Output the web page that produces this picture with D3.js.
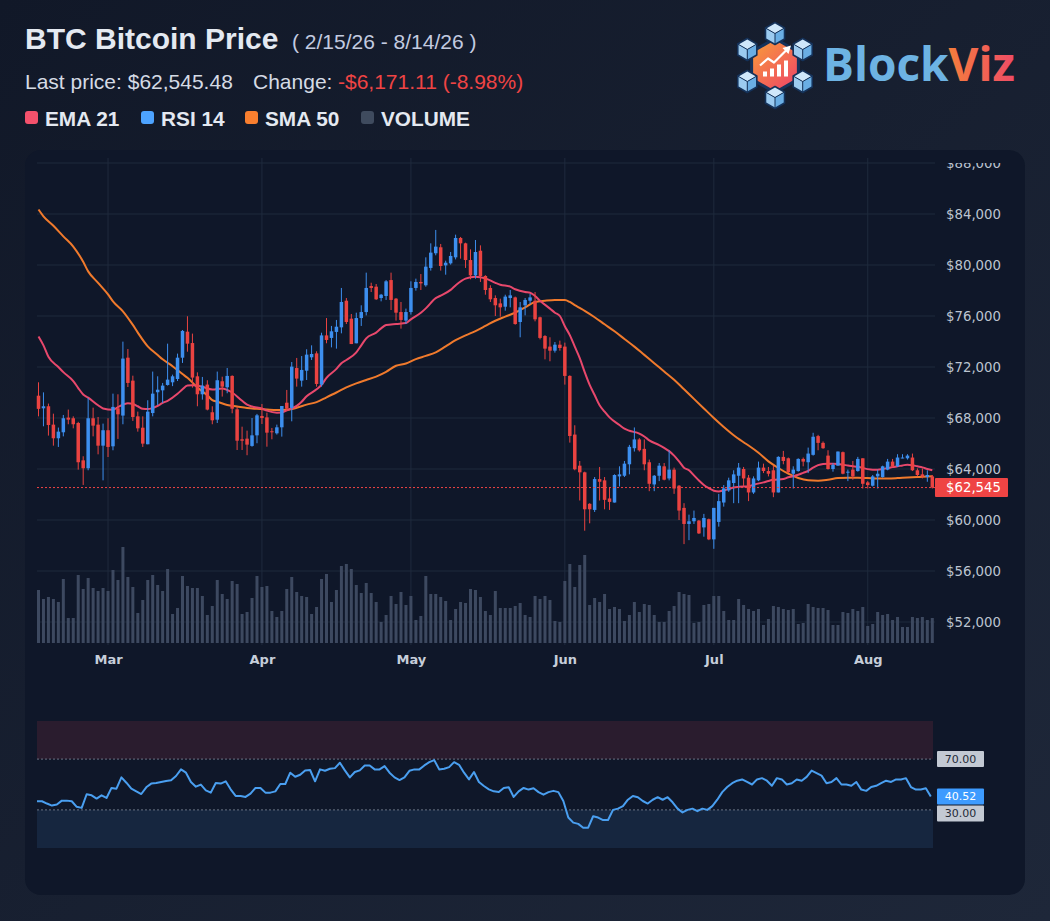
<!DOCTYPE html>
<html>
<head>
<meta charset="utf-8">
<script src="https://cdn.jsdelivr.net/npm/d3@7"></script>
<style>
  html, body { margin: 0; padding: 0; background: #141c2d; }
  svg { display: block; }
</style>
</head>
<body>
<div id="chart"></div>
<script>
// ---- data ----
const startDate = new Date(2026, 1, 15); // first candle, one per day

const opens = [69750,68760,68920,67480,66410,66880,68030,67980,67610,64680,
64060,67980,67480,65830,67040,65780,68760,68190,72730,70930,
68130,67240,65940,68390,70020,70170,70590,70800,71060,72730,
74770,73880,71270,69860,70620,68450,67870,70880,70410,71300,
68680,66330,66380,65810,66640,68160,68050,66960,66800,67270,
69200,68790,71920,70930,71710,72760,73070,70620,74480,74280,
74750,75110,77200,75790,73860,75840,76310,78350,78300,77410,
77570,78820,77360,76310,75640,76310,78200,78670,78410,79770,
80920,81390,79970,80130,80600,82120,81700,80390,79190,81120,
79140,78200,77410,76990,76730,77410,77460,75530,76840,77200,
77200,75900,74430,73600,73280,73750,73600,71300,66700,64260,
63740,61270,60790,63210,63110,61690,61370,63420,63470,64370,
65630,66320,65580,64530,62790,63470,64210,63260,63950,62690,
60950,59690,59900,59950,59420,60060,58480,59850,61370,62320,
62900,63470,64000,63320,62160,63110,64110,63840,63900,62160,
64950,64840,63630,63840,64790,64530,65110,66580,66050,65050,
64000,64260,65320,63740,63950,63840,64840,62950,62690,63420,
63370,63950,64580,64210,64840,64840,64900,63900,63580,63370,
63420];

const highs = [70800,70010,69130,68340,67250,68240,68660,68130,67700,65000,
69570,68810,68080,67560,67980,69910,69860,73990,73410,71320,
68500,68130,69390,71640,71270,70750,73830,71400,73050,74900,
75980,74620,71580,71220,70960,68920,71640,71240,71920,71350,
68890,67320,67010,68000,68320,69100,68420,67220,67480,68940,
70200,72390,72710,72860,73390,73700,73230,74690,75840,75220,
75690,78200,77410,76160,76260,76840,79400,78610,78510,77730,
78820,79400,77410,77100,76580,78720,78930,79290,80600,81700,
82750,81650,80340,81020,82380,82200,81750,81230,81960,81540,
79200,78410,77620,77360,77670,78040,77520,77100,77410,77730,
77880,75950,74500,74330,73960,74070,73910,71350,67430,64630,
63790,61320,63370,64160,63370,62580,63580,64210,64630,65890,
67260,66420,66320,64740,63530,64470,64470,65470,64110,62740,
61320,60420,60740,60000,60480,60110,60950,62050,62740,63320,
63900,64470,64160,63530,63420,64580,64420,64160,64260,65000,
65420,64900,64210,64840,64900,65680,66840,66680,66160,65470,
64470,65370,65370,63950,64630,64950,64840,63050,63530,63950,
64260,64790,64790,65160,65160,65160,65210,64050,64050,63900,
63530];

const lows = [68130,67350,66620,65830,65730,66560,67510,67190,63950,62750,
63900,66560,65150,63110,64940,65470,66360,67510,70430,67770,
66930,65730,65940,68130,69020,69180,70540,70500,70900,72320,
73200,70380,68920,69440,68600,67510,67610,69680,69940,68370,
65490,65490,65080,65750,66020,67530,65750,66330,66700,66540,
68530,67740,70460,70460,70980,72550,70460,70460,73860,73540,
73440,74640,75370,73800,73860,75220,76050,77880,77260,77150,
77260,76470,75640,75010,75370,76110,77990,78040,78300,79560,
80760,79560,79240,80030,80440,80500,79770,78880,78930,78670,
77670,77100,76000,75950,76420,76680,75320,74330,76050,76940,
75580,74170,72600,72450,73130,73280,70620,66070,63900,61530,
59160,59740,60630,61530,60840,60790,61370,62630,63370,63580,
65370,65370,63900,62260,62260,63050,63110,63110,62050,60000,
58110,58420,59690,58900,58690,58420,57740,59480,61050,62210,
61320,61320,62630,61480,62050,63050,63680,63420,61790,62160,
64370,63680,62470,63790,64210,63680,65050,65470,65580,63950,
63790,64260,63580,63050,63160,63790,62470,62470,62630,62470,
63320,63900,64160,64160,64840,64740,63840,63420,63260,63000,
62470];

const closes = [68716.59,68920,67450,66410,66930,67980,67870,67510,64530,64060,
67980,67400,65830,67040,65730,68870,68290,72660,70750,68080,
67190,65990,68500,69910,70220,70540,71010,71270,72730,74830,
73830,71170,69860,70540,68660,67820,70960,70460,71300,68730,
66220,66220,65910,66640,68210,68000,66850,66900,67270,68940,
68730,72030,71090,71770,72970,73020,70670,74480,74120,74800,
75160,77100,75530,73800,75840,76310,78200,78200,77310,77670,
78720,77260,76260,75690,76310,78200,78670,78560,79870,80970,
81440,79920,80180,80710,82120,81700,80390,79190,81020,79140,
78040,77310,76840,76680,77520,77620,75370,76680,77260,77460,
75740,74280,73440,73280,73750,73490,71300,66590,63980,63740,
60840,60840,63210,63000,61580,61420,63530,63580,64420,65740,
66320,65470,64370,62840,63470,64260,63160,63950,62470,60740,
59690,59900,60160,58950,60160,58480,60950,61480,62480,63110,
63580,64110,63260,62160,63260,64110,63840,63630,62160,64950,
64630,63740,63950,64790,64580,65210,66530,66050,65630,64000,
64320,65370,63630,63790,63420,64790,62840,62740,63420,63630,
64210,64580,64210,64900,64900,65050,63900,63530,63420,63530,
62545.48];

// volume, relative units (0-100)
const volumes = [53,44,46,44,41,64,25,25,68,54,
65,55,52,55,52,73,63,96,66,56,
30,43,63,68,58,52,74,29,35,67,
57,55,55,47,28,37,63,49,44,62,
59,29,31,45,67,56,57,32,26,32,
54,66,51,47,46,29,36,64,69,41,
53,77,79,74,58,50,60,50,41,21,
28,47,39,51,38,47,23,27,67,49,
49,46,42,23,34,41,40,54,53,46,
32,28,52,35,35,35,37,40,28,26,
47,44,47,43,22,21,62,79,56,78,
88,38,45,41,49,34,36,34,22,28,
41,31,39,38,28,21,21,32,37,51,
49,48,20,21,38,39,47,47,32,23,
23,44,38,34,32,34,18,24,37,36,
34,33,34,19,20,39,36,35,35,33,
18,18,31,30,34,32,36,17,19,31,
28,29,23,26,16,16,26,25,26,23,
25];

// [day index, value]
const ema21 = [[0,74400],[1,73700],[2,72800],[4,72000],[5,71600],[7,70900],[8,70350],[9,69850],
[10,69600],[12,69000],[13,68750],[15,68650],[16,68850],[18,69150],[19,69100],[20,68920],
[21,68720],[22,68700],[24,68950],[25,69180],[26,69350],[28,69900],[29,70250],[30,70540],
[31,70560],[33,70450],[35,70230],[37,70320],[38,70200],[39,70000],[41,69350],[42,69050],
[43,68900],[45,68740],[46,68580],[48,68420],[49,68430],[50,68600],[52,68950],[53,69280],
[54,69700],[56,70250],[57,70600],[58,71150],[60,71850],[61,72300],[62,72550],[64,73150],
[65,73700],[66,74250],[68,74700],[69,75030],[70,75290],[72,75380],[74,75450],[75,75740],
[77,76250],[78,76600],[80,77400],[81,77600],[83,78050],[84,78400],[86,78930],[88,79080],
[90,78950],[92,78600],[93,78450],[95,78300],[96,78100],[98,77880],[99,77830],[100,77570],
[101,77200],[103,76580],[104,76260],[105,76000],[106,75200],[107,74500],[108,73600],[109,72700],
[110,71600],[111,70600],[112,69800],[113,69000],[114,68500],[115,68050],[117,67450],[118,67160],
[119,67000],[121,66780],[122,66550],[123,66250],[125,65880],[126,65660],[127,65400],[128,65050],
[129,64600],[130,64100],[131,63900],[132,63500],[133,63100],[134,62750],[135,62500],[136,62300],
[137,62240],[138,62330],[139,62420],[140,62550],[141,62600],[143,62640],[144,62770],[146,62950],
[147,63060],[148,63150],[150,63210],[151,63350],[152,63430],[153,63550],[154,63700],[155,63850],
[156,64100],[157,64300],[158,64400],[159,64420],[160,64410],[162,64340],[163,64270],[164,64220],
[165,64170],[166,64080],[167,63990],[168,63950],[169,63950],[170,64000],[171,64070],[172,64150],
[173,64210],[174,64280],[175,64340],[176,64300],[177,64210],[178,64130],[179,64000],[180,63900]];

const sma50 = [[0,84350],[1,83820],[3,83080],[5,82250],[7,81450],[9,80250],[10,79500],[12,78600],
[14,77700],[15,77150],[17,76370],[19,75300],[20,74700],[22,73620],[24,72950],[25,72600],
[27,72060],[29,71450],[30,71150],[32,70400],[34,69780],[35,69400],[36,69280],[38,69020],
[40,68900],[42,68780],[44,68720],[46,68670],[48,68630],[50,68650],[52,68800],[54,69050],
[56,69250],[58,69620],[60,70000],[62,70400],[64,70720],[66,70980],[68,71250],[70,71620],
[72,72100],[74,72280],[76,72620],[78,72870],[80,73150],[82,73620],[84,74100],[86,74480],
[88,74820],[90,75220],[92,75630],[94,75950],[96,76260],[98,76680],[100,77100],[102,77200],
[104,77260],[106,77250],[107,77100],[108,76860],[109,76630],[110,76400],[112,75900],[114,75350],
[116,74800],[118,74200],[120,73600],[122,72950],[124,72300],[126,71650],[128,71000],[130,70250],
[132,69500],[134,68750],[136,68000],[138,67300],[140,66650],[142,66100],[143,65840],[145,65270],
[147,64600],[149,64080],[151,63630],[153,63290],[155,63110],[157,63080],[159,63160],[161,63290],
[163,63320],[165,63320],[167,63290],[169,63260],[171,63260],[173,63290],[175,63340],[177,63370],
[179,63420],[180,63440]];

const rsi14 = [36.8,36.8,35.0,33.4,34.2,37.3,37.3,36.8,32.4,31.6,
42.3,41.5,38.9,41.5,39.4,47.3,46.7,55.6,51.4,46.7,
44.6,42.5,47.8,50.7,51.2,52.0,52.7,53.3,56.7,61.9,
59.3,52.0,48.3,49.9,45.4,43.6,51.2,50.7,52.5,46.2,
41.0,41.0,40.2,42.8,47.3,47.3,43.6,43.6,44.6,50.4,
50.4,59.3,56.1,57.7,61.1,61.4,52.5,61.9,60.8,62.4,
62.9,67.1,61.1,55.6,59.8,61.1,65.0,65.0,61.9,61.9,
64.5,59.3,55.6,53.5,55.6,60.8,61.9,61.9,65.0,67.6,
69.2,61.9,62.4,63.7,67.6,65.5,59.3,54.0,59.8,52.0,
48.8,46.2,44.6,44.1,47.3,47.8,40.2,44.6,47.3,46,
47,44,42,44,45,44,37,24,20,19,
16,16,25,24,22,22,30,31,33,38,
41,40,37,35,38,40,38,40,36,31,
28,30,31,29,31,30,33,38,44,48,
51,53,54,52,50,54,55,53,49,55,
54,50,51,54,53,56,61,59,57,51,
52,55,50,50,49,52,46,45,48,49,
51,53,52,54,54,55,48,46,46,47,
40.52];

const priceTicks = d3.range(52000, 88001, 4000);
const rsiLevels = [70, 30];
const legendItems = [
  { label: "EMA 21", color: "#f4516c" },
  { label: "RSI 14", color: "#4da3ff" },
  { label: "SMA 50", color: "#f97f2f" },
  { label: "VOLUME", color: "#3f4b5e" }
];

// ---- layout ----
const W = 1050, H = 921;
const plotLeft = 37, plotRight = 935;
const fmtMoney = d3.format(",.2f");

const svg = d3.select("#chart").append("svg")
  .attr("width", W).attr("height", H);

const defs = svg.append("defs");
const bgGrad = defs.append("linearGradient").attr("id", "bgGrad")
  .attr("x1", 0).attr("y1", 0).attr("x2", 1).attr("y2", 1);
bgGrad.append("stop").attr("offset", "0%").attr("stop-color", "#111828");
bgGrad.append("stop").attr("offset", "100%").attr("stop-color", "#1e2739");

const hexGrad = defs.append("linearGradient").attr("id", "hexGrad")
  .attr("gradientUnits", "userSpaceOnUse")
  .attr("x1", -22).attr("y1", -22).attr("x2", 22).attr("y2", 22);
hexGrad.append("stop").attr("offset", "0%").attr("stop-color", "#f89a3a");
hexGrad.append("stop").attr("offset", "100%").attr("stop-color", "#ee4468");

const vizGrad = defs.append("linearGradient").attr("id", "vizGrad")
  .attr("gradientUnits", "userSpaceOnUse")
  .attr("x1", 945).attr("y1", 0).attr("x2", 1015).attr("y2", 0);
vizGrad.append("stop").attr("offset", "0%").attr("stop-color", "#f5803a");
vizGrad.append("stop").attr("offset", "100%").attr("stop-color", "#ef4c66");

defs.append("clipPath").attr("id", "gridClip")
  .append("rect").attr("x", 0).attr("y", 158).attr("width", W).attr("height", 500);
defs.append("clipPath").attr("id", "labelClip")
  .append("rect").attr("x", 0).attr("y", 163).attr("width", W).attr("height", 500);

svg.append("rect").attr("width", W).attr("height", H).attr("fill", "url(#bgGrad)");

// chart panel
svg.append("rect")
  .attr("x", 25).attr("y", 150).attr("width", 1000).attr("height", 745)
  .attr("rx", 16).attr("fill", "#0f1729");

// ---- header ----
const head = svg.append("g").attr("font-family", "'Liberation Sans', Arial, sans-serif");
head.append("text").attr("x", 25).attr("y", 48.5)
  .attr("font-size", 30).attr("font-weight", 700).attr("fill", "#e4e9f1")
  .text("BTC Bitcoin Price");
head.append("text").attr("x", 292).attr("y", 48.5)
  .attr("font-size", 21).attr("fill", "#c3cbe0")
  .text("( 2/15/26 - 8/14/26 )");

const lastClose = closes[closes.length - 1];
const change = lastClose - closes[0];
head.append("text").attr("x", 25).attr("y", 89)
  .attr("font-size", 21).attr("fill", "#d5dbe5")
  .text("Last price: $" + fmtMoney(lastClose));
const chg = head.append("text").attr("x", 253).attr("y", 89).attr("font-size", 21);
chg.append("tspan").attr("fill", "#d5dbe5").text("Change: ");
chg.append("tspan").attr("x", 338).attr("fill", "#ef4444")
  .text("-$" + fmtMoney(Math.abs(change)) + " (-" + Math.abs(change / closes[0] * 100).toFixed(2) + "%)");

const legendX = [25, 141, 245, 361];
const legend = head.selectAll(".legend").data(legendItems).join("g")
  .attr("class", "legend")
  .attr("transform", (d, i) => `translate(${legendX[i]},0)`);
legend.append("rect").attr("x", 0).attr("y", 111).attr("width", 13).attr("height", 13)
  .attr("rx", 3).attr("fill", d => d.color);
legend.append("text").attr("x", 20).attr("y", 125.5)
  .attr("font-size", 20.8).attr("font-weight", 700).attr("fill", "#e4e9f1")
  .text(d => d.label);

// ---- logo ----
const logo = svg.append("g").attr("transform", "translate(775,65.5)");
const hexPts = d3.range(6).map(k => {
  const a = Math.PI / 180 * (60 * k - 90);
  return [27 * Math.cos(a), 27 * Math.sin(a)];
});
logo.append("polygon").attr("points", hexPts.join(" "))
  .attr("fill", "url(#hexGrad)").attr("stroke", "#15325a").attr("stroke-width", 3);
// bars + arrow inside hexagon
const bars = [[-12, 5], [-5, 8], [2, 12], [9, 16]];
logo.selectAll(".lbar").data(bars).join("rect")
  .attr("x", d => d[0]).attr("y", d => 11 - d[1]).attr("width", 4).attr("height", d => d[1])
  .attr("fill", "#ffffff");
logo.append("polyline").attr("points", "-15,0 -7,-7 -1,-3 12,-16")
  .attr("fill", "none").attr("stroke", "#ffffff").attr("stroke-width", 2.2)
  .attr("stroke-linejoin", "round");
logo.append("polygon").attr("points", "16,-20 7.5,-17.5 13.5,-11.5").attr("fill", "#ffffff");
// six cubes around
const cubeS = 11;
const cube = g => {
  const s = cubeS, k = 0.866 * s;
  g.append("path").attr("d", `M0,${-s}L${k},${-s / 2}L0,0L${-k},${-s / 2}Z`).attr("fill", "#cfe7fa");
  g.append("path").attr("d", `M${-k},${-s / 2}L0,0L0,${s}L${-k},${s / 2}Z`).attr("fill", "#9ccbf0");
  g.append("path").attr("d", `M0,0L${k},${-s / 2}L${k},${s / 2}L0,${s}Z`).attr("fill", "#6aaee4");
  g.append("path").attr("d", `M0,${-s}L${k},${-s / 2}L${k},${s / 2}L0,${s}L${-k},${s / 2}L${-k},${-s / 2}Z`)
    .attr("fill", "none").attr("stroke", "#15325a").attr("stroke-width", 1.6).attr("stroke-linejoin", "round");
  g.append("path").attr("d", `M${-k},${-s / 2}L0,0L${k},${-s / 2}M0,0L0,${s}`)
    .attr("fill", "none").attr("stroke", "#15325a").attr("stroke-width", 1);
};
d3.range(6).forEach(k => {
  const a = Math.PI / 180 * (60 * k - 90);
  cube(logo.append("g").attr("transform", `translate(${32 * Math.cos(a)},${32 * Math.sin(a)})`));
});
const brand = svg.append("text").attr("x", 823).attr("y", 81)
  .attr("font-family", "'Open Sans', 'Noto Sans', sans-serif")
  .attr("font-size", 46).attr("font-weight", 700);
brand.append("tspan").attr("fill", "#6db3e3").text("Block");
brand.append("tspan").attr("fill", "url(#vizGrad)").text("Viz");

// ---- scales ----
const dates = closes.map((_, i) => d3.timeDay.offset(startDate, i));
const x = d3.scaleTime().domain([dates[0], dates[dates.length - 1]]).range([38.5, 932.3]);
const y = d3.scaleLinear().domain([50353, 89020]).range([643, 150]);
const yVol = d3.scaleLinear().domain([0, 100]).range([643, 543]);
const yRsi = d3.scaleLinear().domain([0, 100]).range([848, 721]);

// ---- grid ----
const grid = svg.append("g").attr("clip-path", "url(#gridClip)");
grid.selectAll(".hgrid").data(priceTicks).join("line")
  .attr("x1", plotLeft).attr("x2", plotRight)
  .attr("y1", d => y(d)).attr("y2", d => y(d))
  .attr("stroke", "#1f2a3d").attr("stroke-width", 1);
const months = d3.timeMonth.range(d3.timeMonth.ceil(dates[0]), dates[dates.length - 1]);
grid.selectAll(".vgrid").data(months).join("line")
  .attr("x1", d => x(d)).attr("x2", d => x(d))
  .attr("y1", 158).attr("y2", 645)
  .attr("stroke", "#1f2a3d").attr("stroke-width", 1);

// ---- volume ----
svg.append("g").selectAll("rect").data(volumes).join("rect")
  .attr("x", (d, i) => x(dates[i]) - 1.5)
  .attr("width", 3)
  .attr("y", d => yVol(d))
  .attr("height", d => yVol(0) - yVol(d))
  .attr("fill", "#3d4960");

// ---- moving averages ----
const maLine = d3.line()
  .x(d => x(dates[d[0]])).y(d => y(d[1]))
  .curve(d3.curveMonotoneX);
svg.append("path").datum(sma50).attr("d", maLine)
  .attr("fill", "none").attr("stroke", "#f07a2c").attr("stroke-width", 2);
svg.append("path").datum(ema21).attr("d", maLine)
  .attr("fill", "none").attr("stroke", "#e8486c").attr("stroke-width", 2);

// ---- candles ----
const candles = closes.map((c, i) => ({
  date: dates[i], o: opens[i], h: highs[i], l: lows[i], c
}));
const candleColor = d => d.c >= d.o ? "#3d8fef" : "#ea4341";
const cg = svg.append("g").selectAll("g").data(candles).join("g");
cg.append("line")
  .attr("x1", d => x(d.date)).attr("x2", d => x(d.date))
  .attr("y1", d => y(d.h)).attr("y2", d => y(d.l))
  .attr("stroke", candleColor).attr("stroke-width", 1);
cg.append("rect")
  .attr("x", d => x(d.date) - 1.75).attr("width", 3.5)
  .attr("y", d => y(Math.max(d.o, d.c)))
  .attr("height", d => Math.max(1, Math.abs(y(d.o) - y(d.c))))
  .attr("fill", candleColor);

// last price line
svg.append("line")
  .attr("x1", plotLeft).attr("x2", plotRight)
  .attr("y1", y(lastClose)).attr("y2", y(lastClose))
  .attr("stroke", "#ef4444").attr("stroke-width", 1).attr("stroke-dasharray", "2,2");

// ---- axes ----
const yAxis = svg.append("g")
  .attr("transform", "translate(942,0)")
  .attr("clip-path", "url(#labelClip)")
  .call(d3.axisRight(y).tickValues(priceTicks).tickSize(0).tickPadding(4)
    .tickFormat(d => "$" + d3.format(",")(d)));
yAxis.select(".domain").remove();
yAxis.selectAll("text")
  .attr("font-family", "'DejaVu Sans', sans-serif").attr("font-size", 13.3).attr("fill", "#bcc4d0");

const xAxis = svg.append("g")
  .attr("transform", "translate(0,643)")
  .call(d3.axisBottom(x).tickValues(months).tickSize(0).tickPadding(12)
    .tickFormat(d3.timeFormat("%b")));
xAxis.select(".domain").remove();
xAxis.selectAll("text")
  .attr("font-family", "'DejaVu Sans', sans-serif").attr("font-size", 13)
  .attr("font-weight", 700).attr("fill", "#c6ceda");

// last price tag
const tag = svg.append("g").attr("transform", `translate(935,${y(lastClose)})`);
tag.append("rect").attr("x", 0).attr("y", -9.5).attr("width", 73).attr("height", 19)
  .attr("rx", 1).attr("fill", "#ef4444");
tag.append("text").attr("x", 11).attr("dy", "0.35em")
  .attr("font-family", "'DejaVu Sans', sans-serif").attr("font-size", 13.3).attr("fill", "#ffffff")
  .text("$" + d3.format(",")(Math.round(lastClose)));

// ---- RSI pane ----
const rsiG = svg.append("g");
rsiG.append("rect").attr("x", plotLeft).attr("width", 896)
  .attr("y", yRsi(100)).attr("height", yRsi(70) - yRsi(100)).attr("fill", "#2a1c2e");
rsiG.append("rect").attr("x", plotLeft).attr("width", 896)
  .attr("y", yRsi(30)).attr("height", yRsi(0) - yRsi(30)).attr("fill", "#16263f");
rsiG.selectAll(".lvl").data(rsiLevels).join("line")
  .attr("x1", plotLeft).attr("x2", 933)
  .attr("y1", d => yRsi(d)).attr("y2", d => yRsi(d))
  .attr("stroke", "#6b7384").attr("stroke-width", 1).attr("stroke-dasharray", "2,2");

const rsiLine = d3.line().x((d, i) => x(dates[i]) - 1.5).y(d => yRsi(d));
rsiG.append("path").datum(rsi14).attr("d", rsiLine)
  .attr("fill", "none").attr("stroke", "#4a9ff0").attr("stroke-width", 2)
  .attr("stroke-linejoin", "round");

const lastRsi = rsi14[rsi14.length - 1];
const rsiTags = [
  { text: "70.00", yc: yRsi(70), fill: "#c3c9d3", color: "#1f2937" },
  { text: d3.format(".2f")(lastRsi), yc: yRsi(lastRsi), fill: "#3d9bff", color: "#ffffff" },
  { text: "30.00", yc: yRsi(lastRsi) + 17, fill: "#c3c9d3", color: "#1f2937" }
];
const rt = rsiG.selectAll(".rtag").data(rsiTags).join("g")
  .attr("transform", d => `translate(937,${d.yc})`);
rt.append("rect").attr("x", 0).attr("y", -8).attr("width", 47).attr("height", 16)
  .attr("rx", 1).attr("fill", d => d.fill);
rt.append("text").attr("x", 23.5).attr("dy", "0.35em").attr("text-anchor", "middle")
  .attr("font-family", "'DejaVu Sans', sans-serif").attr("font-size", 11)
  .attr("fill", d => d.color).text(d => d.text);
</script>
</body>
</html>
